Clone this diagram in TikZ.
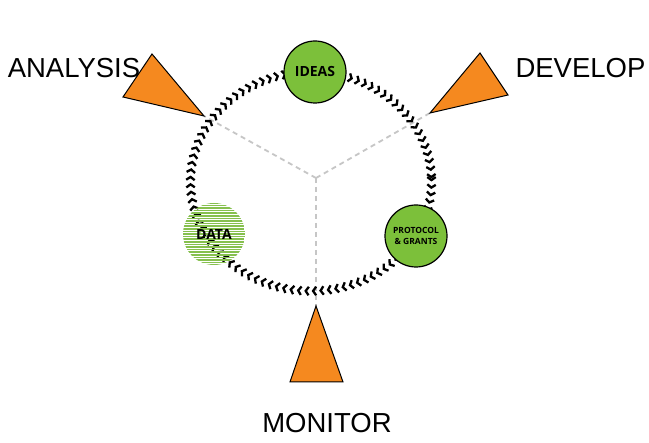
\documentclass[tikz,border=0pt]{standalone}
\usepackage{fontspec}
\setmainfont{Liberation Sans}
\newfontfamily\innerfont{Open Sans}
\usetikzlibrary{decorations.markings,arrows.meta}
\definecolor{leaf}{HTML}{7CC03A}
\definecolor{stripe}{HTML}{86C04E}
\definecolor{tang}{HTML}{F5891F}
\begin{document}
\begin{tikzpicture}[x=1pt,y=-1pt,
  phase/.style={circle,draw=black,line width=1.2pt,fill=leaf,minimum size=62pt,inner sep=0pt,font=\innerfont\bfseries,align=center},
  datanode/.style={circle,minimum size=62pt,inner sep=0pt,font=\innerfont\bfseries\fontsize{14}{16}\selectfont,
    path picture={\foreach \k in {-12,...,12}
      \draw[stripe,line width=1.5pt] ([yshift=\k*2.6pt]path picture bounding box.west) -- ([yshift=\k*2.6pt]path picture bounding box.east);}},
  tri/.style={fill=tang,draw=black,line width=1pt,line join=miter},
  guide/.style={draw=gray!45,line width=1.8pt,dash pattern=on 5pt off 4pt},
  biglabel/.style={font=\fontsize{27.5}{30}\selectfont,inner sep=0pt},
  chev/.style={postaction={decorate},decoration={markings,
    mark=between positions 0 and 1 step 7.5pt with {\arrow{Straight Barb[length=3pt,width=8.5pt,line width=2.3pt]}}}}
]
\useasboundingbox (0,0) rectangle (649,443);
\fill[white] (0,0) rectangle (649,443);

% labels
\node[biglabel] (lanalysis) at (74,68) {ANALYSIS};
\node[biglabel] (ldevelop) at (580.5,68) {DEVELOP};
\node[biglabel] (lmonitor) at (327,423) {MONITOR};

% guide lines
\coordinate (hub) at (316,178);
\coordinate (atip) at (204,116);
\coordinate (dtip) at (430,113);
\coordinate (mtip) at (316,306);
\draw[guide] (hub) -- (atip);
\draw[guide] (hub) -- (dtip);
\draw[guide] (hub) -- (mtip);

% triangles
\draw[tri] (152,54) -- (123,97) -- (atip) -- cycle;
\draw[tri] (480,53) -- (508,95) -- (dtip) -- cycle;
\draw[tri] (mtip) -- (290,382) -- (343,382) -- cycle;

% cycle ring
\path[chev] (311,181.5) ellipse [x radius=120.5, y radius=109.5];

% phases
\node[phase,font=\innerfont\bfseries\fontsize{14}{16}\selectfont] (ideas) at (315,72) {IDEAS};
\node[phase,font=\innerfont\bfseries\fontsize{8.5}{11}\selectfont] (protocol) at (416,236) {PROTOCOL\\\& GRANTS};
\node[datanode] (data) at (214,234) {DATA};
\end{tikzpicture}
\end{document}
